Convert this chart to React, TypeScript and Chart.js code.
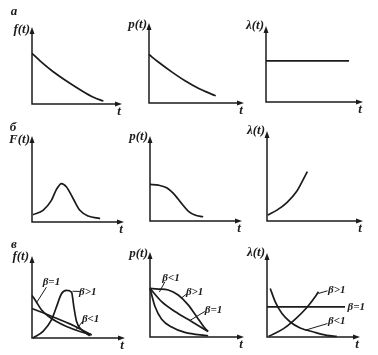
import React, { useEffect, useRef } from "react";
import { Chart, registerables } from "chart.js";
Chart.register(...registerables);

// ---- data (arbitrary units, 0..10 on each panel) ----
// row а
const tA1 = [0, 1.28, 2.39, 3.87, 5.35, 6.83, 7.93];
const fA = [6.58, 5.2, 4.15, 2.95, 1.85, 0.87, 0.39];
const tA2 = [0, 0.98, 2.39, 3.79, 5.19, 7.02];
const pA = [6.06, 5.12, 3.89, 2.78, 1.85, 0.9];
const tA3 = [0, 8.56];
const lamA = [5.4, 5.4];
// row б
const tB1 = [0.11, 1.2, 2.11, 2.66, 3.2, 3.75, 4.47, 5.2, 6.1, 7.4];
const fB = [0.86, 1.36, 2.52, 3.8, 4.47, 4.07, 2.73, 1.36, 0.7, 0.4];
const tB2 = [0, 0.9, 1.81, 2.71, 3.43, 4.15, 4.88, 5.78];
const pB = [4.3, 4.22, 3.9, 3.05, 2.07, 1.17, 0.7, 0.5];
const tB3 = [0.07, 1.03, 2.07, 3.1, 4.2];
const lamB = [0.66, 1.21, 2.05, 3.3, 5.49];
// row в : f(t)
const tFlt1 = [0, 0.47, 1.01, 1.73, 2.63, 3.71, 5.15, 6.41];
const fLt1 = [5.2, 4.4, 3.44, 2.68, 2.0, 1.4, 0.8, 0.4];
const tFeq1 = [0, 1.19, 2.63, 4.07, 5.5, 6.41];
const fEq1 = [3.6, 3.07, 2.4, 1.72, 0.91, 0.36];
const tFgt1 = [0.11, 1.19, 2.09, 2.63, 3.17, 3.71, 4.25, 4.5, 4.79, 5.33, 6.22];
const fGt1 = [0, 0.8, 2.2, 3.8, 5.4, 5.8, 5.6, 3.8, 2.0, 1.0, 0.28];
// row в : p(t)
const tPgt1 = [0, 0.88, 1.94, 3.0, 4.06, 4.95, 5.83, 6.18];
const pGt1 = [5.72, 5.64, 5.53, 4.94, 3.78, 2.41, 1.05, 0.65];
const tPeq1 = [0, 1.24, 2.65, 4.42, 6.18];
const pEq1 = [5.72, 4.16, 3.0, 1.82, 0.65];
const tPlt1 = [0, 0.53, 1.24, 2.3, 3.71, 6.18];
const pLt1 = [5.72, 3.58, 2.1, 1.17, 0.54, 0.15];
// row в : λ(t)
const tLeq1 = [0, 8.39];
const lEq1 = [3.58, 3.58];
const tLgt1 = [0.18, 1.78, 3.22, 4.29, 5.18, 5.53];
const lGt1 = [0.08, 1.0, 2.32, 3.51, 4.78, 5.38];
const tLlt1 = [0.35, 0.89, 1.61, 2.5, 3.57, 5.0, 6.43, 7.5];
const lLlt1 = [5.78, 4.18, 2.79, 1.79, 1.08, 0.6, 0.2, 0.08];

type Series = { x: number[]; y: number[] };
type Note = { text: string; at: [number, number]; from?: [number, number]; to?: [number, number] };
type Panel = {
  box: { l: number; t: number; r: number; b: number };
  yLabel: string;
  yLabelDx: number;
  yLabelDy: number;
  row?: { text: string; x: number; y: number };
  series: Series[];
  notes: Note[];
};

const W = 378;
const H = 355;
const INK = "#1b1b1b";

const panels: Panel[] = [
  { box: { l: 32, t: 27, r: 122, b: 104 }, yLabel: "f(t)", yLabelDx: 0, yLabelDy: 3, row: { text: "а", x: 14, y: 12 },
    series: [{ x: tA1, y: fA }], notes: [] },
  { box: { l: 149, t: 23, r: 244, b: 103 }, yLabel: "p(t)", yLabelDx: 0, yLabelDy: 2,
    series: [{ x: tA2, y: pA }], notes: [] },
  { box: { l: 266, t: 26, r: 363, b: 102 }, yLabel: "λ(t)", yLabelDx: 0, yLabelDy: 0,
    series: [{ x: tA3, y: lamA }], notes: [] },
  { box: { l: 32, t: 136, r: 124, b: 222 }, yLabel: "F(t)", yLabelDx: 0, yLabelDy: 4, row: { text: "б", x: 13, y: 128 },
    series: [{ x: tB1, y: fB }], notes: [] },
  { box: { l: 150, t: 136, r: 242, b: 221 }, yLabel: "p(t)", yLabelDx: 0, yLabelDy: 1,
    series: [{ x: tB2, y: pB }], notes: [] },
  { box: { l: 267, t: 131, r: 363, b: 221 }, yLabel: "λ(t)", yLabelDx: 0, yLabelDy: 0,
    series: [{ x: tB3, y: lamB }], notes: [] },
  { box: { l: 32, t: 256, r: 125, b: 338 }, yLabel: "f(t)", yLabelDx: -1, yLabelDy: 1, row: { text: "в", x: 14, y: 245 },
    series: [{ x: tFlt1, y: fLt1 }, { x: tFeq1, y: fEq1 }, { x: tFgt1, y: fGt1 }],
    notes: [
      { text: "β=1", at: [2.09, 6.8], from: [1.55, 6.2], to: [0.54, 4.4] },
      { text: "β>1", at: [6.0, 5.6], from: [5.15, 5.68], to: [4.36, 5.7] },
      { text: "β<1", at: [6.3, 2.3], from: [5.44, 2.0], to: [4.71, 1.0] },
    ] },
  { box: { l: 150, t: 252, r: 244, b: 337 }, yLabel: "p(t)", yLabelDx: 0, yLabelDy: 2,
    series: [{ x: tPgt1, y: pGt1 }, { x: tPeq1, y: pEq1 }, { x: tPlt1, y: pLt1 }],
    notes: [
      { text: "β<1", at: [2.23, 6.9], from: [1.59, 6.5], to: [1.0, 5.3] },
      { text: "β>1", at: [4.75, 5.33], from: [3.89, 5.06], to: [3.36, 4.6] },
      { text: "β=1", at: [6.75, 3.19], from: [5.83, 3.0], to: [4.24, 1.94] },
    ] },
  { box: { l: 267, t: 253, r: 360, b: 337 }, yLabel: "λ(t)", yLabelDx: 0, yLabelDy: 0,
    series: [{ x: tLeq1, y: lEq1 }, { x: tLgt1, y: lGt1 }, { x: tLlt1, y: lLlt1 }],
    notes: [
      { text: "β>1", at: [7.5, 5.58], from: [6.5, 5.5], to: [5.53, 5.18] },
      { text: "β=1", at: [9.6, 3.55] },
      { text: "β<1", at: [7.5, 1.91], from: [6.5, 1.6], to: [4.1, 0.8] },
    ] },
];

const FONT_AXIS = "italic bold 13px 'Liberation Serif', 'DejaVu Serif', serif";
const FONT_NOTE = "italic bold 11px 'Liberation Serif', 'DejaVu Serif', serif";
const FONT_ROW = "italic bold 13px 'Liberation Serif', 'DejaVu Serif', serif";

function makePlugin(p: Panel) {
  return {
    id: "sketchAxes",
    afterDraw(chart: any) {
      const ctx: CanvasRenderingContext2D = chart.ctx;
      const { left, right, top, bottom } = chart.chartArea;
      const xs = chart.scales.x;
      const ys = chart.scales.y;
      ctx.save();
      ctx.strokeStyle = INK;
      ctx.fillStyle = INK;
      ctx.lineWidth = 1.5;
      ctx.lineCap = "butt";
      // axes
      ctx.beginPath();
      ctx.moveTo(left, top + 4);
      ctx.lineTo(left, bottom);
      ctx.lineTo(right - 4, bottom);
      ctx.stroke();
      // arrowheads
      ctx.beginPath();
      ctx.moveTo(left, top);
      ctx.lineTo(left - 2.5, top + 7);
      ctx.lineTo(left + 2.5, top + 7);
      ctx.closePath();
      ctx.fill();
      ctx.beginPath();
      ctx.moveTo(right, bottom);
      ctx.lineTo(right - 7, bottom - 2.5);
      ctx.lineTo(right - 7, bottom + 2.5);
      ctx.closePath();
      ctx.fill();
      // labels
      ctx.font = FONT_AXIS;
      ctx.textBaseline = "middle";
      ctx.textAlign = "right";
      ctx.fillText(p.yLabel, left + p.yLabelDx - 2, top + p.yLabelDy);
      ctx.textAlign = "center";
      ctx.fillText("t", right - 3, bottom + 8);
      if (p.row) {
        ctx.font = FONT_ROW;
        ctx.textAlign = "center";
        ctx.fillText(p.row.text, p.row.x, p.row.y);
      }
      // curve notes
      ctx.font = FONT_NOTE;
      ctx.lineWidth = 1;
      for (const n of p.notes) {
        if (n.from && n.to) {
          ctx.beginPath();
          ctx.moveTo(xs.getPixelForValue(n.from[0]), ys.getPixelForValue(n.from[1]));
          ctx.lineTo(xs.getPixelForValue(n.to[0]), ys.getPixelForValue(n.to[1]));
          ctx.stroke();
        }
        ctx.textAlign = "center";
        ctx.fillText(n.text, xs.getPixelForValue(n.at[0]), ys.getPixelForValue(n.at[1]));
      }
      ctx.restore();
    },
  };
}

function PanelChart({ p }: { p: Panel }) {
  const ref = useRef<HTMLCanvasElement | null>(null);
  useEffect(() => {
    if (!ref.current) return;
    const chart = new Chart(ref.current, {
      type: "line",
      data: {
        datasets: p.series.map((s) => ({
          data: s.x.map((x, i) => ({ x, y: s.y[i] })),
          borderColor: INK,
          borderWidth: 1.7,
          pointRadius: 0,
          fill: false,
          cubicInterpolationMode: "monotone" as const,
          clip: false as any,
        })),
      },
      options: {
        animation: false,
        responsive: false,
        events: [],
        layout: { padding: { left: p.box.l, top: p.box.t, right: W - p.box.r, bottom: H - p.box.b } },
        plugins: { legend: { display: false }, tooltip: { enabled: false }, title: { display: false } },
        scales: {
          x: { type: "linear", min: 0, max: 10, display: false },
          y: { type: "linear", min: 0, max: 10, display: false },
        },
      },
      plugins: [makePlugin(p)],
    });
    return () => chart.destroy();
  }, [p]);
  return (
    <canvas
      ref={ref}
      width={W}
      height={H}
      style={{ position: "absolute", left: 0, top: 0, width: W, height: H }}
    />
  );
}

export default function App() {
  return (
    <div style={{ position: "absolute", left: 0, top: 0, width: W, height: H, background: "#fff", overflow: "hidden" }}>
      {panels.map((p, i) => (
        <PanelChart key={i} p={p} />
      ))}
    </div>
  );
}
